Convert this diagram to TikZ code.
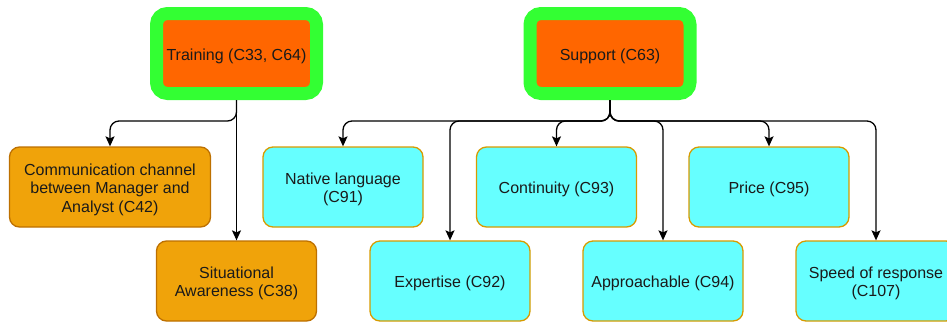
\documentclass[tikz,border=0pt]{standalone}
\usepackage{fontspec}
\setmainfont{Liberation Sans}
\usetikzlibrary{arrows.meta}
\definecolor{topfill}{HTML}{FF6600}
\definecolor{topring}{HTML}{33FF33}
\definecolor{orgfill}{HTML}{F0A30A}
\definecolor{orgline}{HTML}{BD7000}
\definecolor{cyanfill}{HTML}{66FFFF}
\definecolor{cyanline}{HTML}{D79B00}
\definecolor{txt}{HTML}{1A1A1A}
% centred label lines, set a little below the box centre
\newcommand\boxtext[1]{\raisebox{0pt}[\dimexpr\height+6pt\relax][\depth]{\begin{tabular}{@{}c@{}}#1\end{tabular}}}
\tikzset{
  base/.style={text=txt, minimum height=80pt, minimum width=160pt,
    inner sep=2pt, font=\fontsize{16}{18.5}\selectfont},
  topbox/.style={base, draw=topring, fill=topfill, line width=13pt, rounded corners=11pt},
  orgbox/.style={base, draw=orgline, fill=orgfill, line width=1.3pt, rounded corners=10pt},
  cyanbox/.style={base, draw=cyanline, fill=cyanfill, line width=1.3pt, rounded corners=10pt},
  edge/.style={draw=black, line width=1.3pt, rounded corners=9pt,
    -{Stealth[length=10pt,width=9pt,inset=2pt]}}
}
\begin{document}
\begin{tikzpicture}[x=1pt,y=1pt]
  \useasboundingbox (0,0) rectangle (947,325);
  \clip (0,0) rectangle (947,325);
  % parent categories
  \node[topbox] (tr)  at (236.5,271.5) {\boxtext{Training (C33, C64)}};
  \node[topbox] (sup) at (610,271.5) {\boxtext{Support (C63)}};
  % training sub-items
  \node[orgbox, minimum width=201pt] (com) at (110,138) {\boxtext{Communication channel\\between Manager and\\Analyst (C42)}};
  \node[orgbox] (sit) at (236.5,44) {\boxtext{Situational\\Awareness (C38)}};
  % support sub-items
  \node[cyanbox] (nat) at (343,138) {\boxtext{Native language\\(C91)}};
  \node[cyanbox] (con) at (556.5,138) {\boxtext{Continuity (C93)}};
  \node[cyanbox] (pri) at (769,138) {\boxtext{Price (C95)}};
  \node[cyanbox] (exp) at (450,44) {\boxtext{Expertise (C92)}};
  \node[cyanbox] (app) at (663,44) {\boxtext{Approachable (C94)}};
  \node[cyanbox] (spd) at (876,44) {\boxtext{Speed of response\\(C107)}};
  % shared bus height
  \coordinate (bus) at (0,204);
  % connectors
  \draw[edge] (tr.south) -- (tr.south |- bus) -| (com.north);
  \draw[edge] (tr.south) -- (sit.north);
  \draw[edge] (sup.south) -- (sup.south |- bus) -| (nat.north);
  \draw[edge] (sup.south) -- (sup.south |- bus) -| (exp.north);
  \draw[edge] (sup.south) -- (sup.south |- bus) -| (con.north);
  \draw[edge] (sup.south) -- (sup.south |- bus) -| (app.north);
  \draw[edge] (sup.south) -- (sup.south |- bus) -| (pri.north);
  \draw[edge] (sup.south) -- (sup.south |- bus) -| (spd.north);
\end{tikzpicture}
\end{document}
